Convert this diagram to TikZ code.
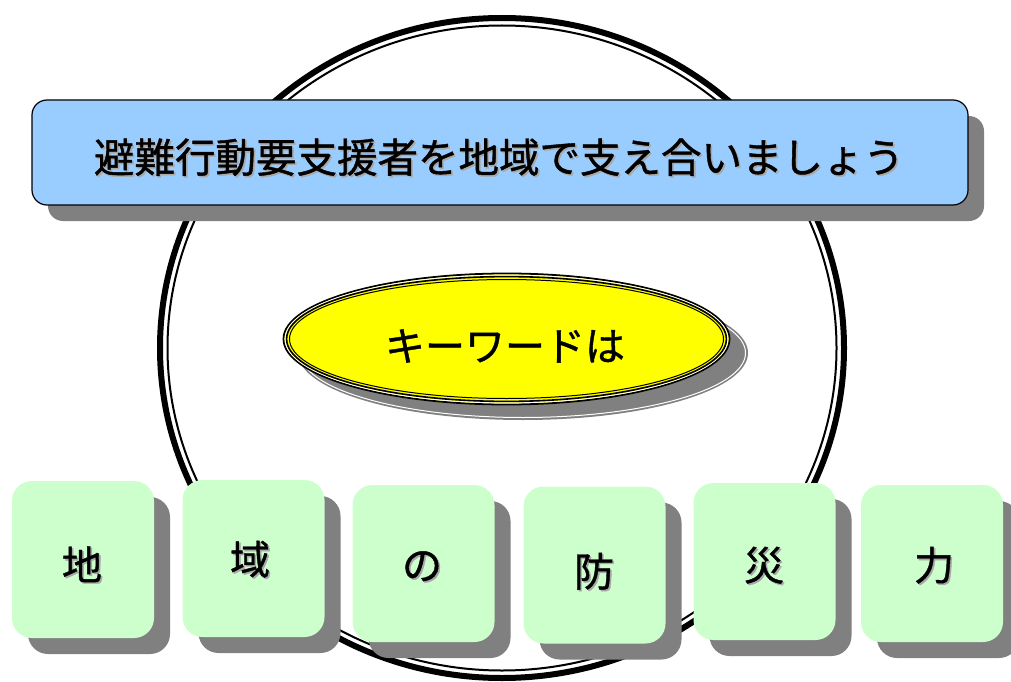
\documentclass[tikz,border=0pt]{standalone}
\usepackage{fontspec}
\usetikzlibrary{shapes.geometric,shadows}
\newfontfamily\jp[FakeBold=1]{Noto Sans CJK JP}
\definecolor{bannerblue}{HTML}{99CCFF}
\definecolor{boxgreen}{HTML}{CCFFCC}
\definecolor{shadowgray}{HTML}{808080}
\definecolor{kwyellow}{HTML}{FFFF00}
\definecolor{tshadow}{HTML}{A8A8A8}
\newcommand\shtext[1]{\makebox[0pt][l]{\hspace{1.6pt}\raisebox{-1.6pt}{\textcolor{tshadow}{#1}}}#1}
\tikzset{
  banner/.style={rounded corners=15pt, fill=bannerblue, draw=black, line width=1.2pt,
    minimum width=936pt, minimum height=105pt, inner sep=0pt,
    drop shadow={shadow xshift=16pt, shadow yshift=-16pt, fill=shadowgray, opacity=1}},
  keybox/.style={rounded corners=20pt, fill=boxgreen, draw=none,
    minimum width=142pt, minimum height=157pt, inner sep=0pt,
    drop shadow={shadow xshift=16pt, shadow yshift=-16pt, fill=shadowgray, opacity=1}},
  jtext/.style={font=\jp\fontsize{40}{48}\selectfont, inner sep=0pt},
  btext/.style={font=\jp\fontsize{40.5}{48}\selectfont, inner sep=0pt},
  kwell/.style={ellipse, fill=kwyellow, minimum width=447pt, minimum height=132pt, inner sep=0pt},
}
\begin{document}
\begin{tikzpicture}[x=1pt,y=-1pt]
\useasboundingbox (0,0) rectangle (1011,682);
\clip (0,0) rectangle (1011,682);
% big circle (double outline)
\draw[line width=6pt] (502,348) ellipse [x radius=342pt, y radius=330pt];
\draw[line width=2pt] (502,348) ellipse [x radius=334.5pt, y radius=322.5pt];
% banner
\node[banner] (banner) at (500,152.5) {};
\node[btext] (bannertext) at (499,158) {\shtext{避難行動要支援者を地域で支え合いましょう}};
% keyword ellipse shadow
\fill[shadowgray] (523,353) ellipse [x radius=225pt, y radius=67pt];
\draw[white, line width=1pt] (523,353) ellipse [x radius=222.5pt, y radius=64.5pt];
% keyword ellipse
\node[kwell] (kw) at (506.5,339) {};
\draw[black, line width=1.8pt] (kw.center) ellipse [x radius=223pt, y radius=65.5pt];
\draw[white, line width=1pt] (kw.center) ellipse [x radius=221.4pt, y radius=63.9pt];
\draw[black, line width=1.6pt] (kw.center) ellipse [x radius=219.9pt, y radius=62.4pt];
\draw[black, line width=1pt] (kw.center) ellipse [x radius=217pt, y radius=59.5pt];
\node[jtext] (kwtext) at (505,346) {キーワードは};
% key boxes
\node[keybox] (b1) at (83,559.5) {};
\node[keybox] (b2) at (253.5,558.5) {};
\node[keybox] (b3) at (423.5,563.5) {};
\node[keybox] (b4) at (594.5,565) {};
\node[keybox] (b5) at (764.5,561.5) {};
\node[keybox] (b6) at (932,563.5) {};
\node[jtext] (t1) at (82,565) {\shtext{地}};
\node[jtext] (t2) at (250,560) {\shtext{域}};
\node[jtext] (t3) at (422,567) {\shtext{の}};
\node[jtext] (t4) at (594,572) {\shtext{防}};
\node[jtext] (t5) at (764,566) {\shtext{災}};
\node[jtext] (t6) at (934,566) {\shtext{力}};
\end{tikzpicture}
\end{document}
